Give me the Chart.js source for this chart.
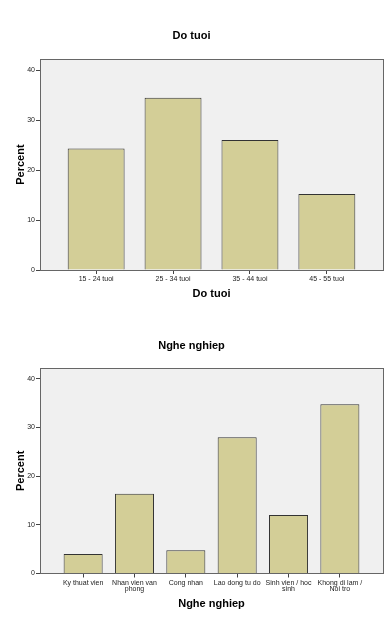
<!DOCTYPE html>
<html>
<head>
<meta charset="utf-8">
<script src="https://cdn.jsdelivr.net/npm/chart.js@4/dist/chart.umd.min.js"></script>
<style>
  html, body { margin: 0; padding: 0; background: #fff; }
  .box1 { position: relative; width: 390px; height: 310px; }
  .box2 { position: relative; width: 390px; height: 309px; }
</style>
</head>
<body>
<div class="box1"><canvas id="ageChart"></canvas></div>
<div class="box2"><canvas id="jobChart"></canvas></div>
<script>
// Do tuoi
const ageLabels = ['15 - 24 tuoi', '25 - 34 tuoi', '35 - 44 tuoi', '45 - 55 tuoi'];
const ageValues = [24.3, 34.5, 26.0, 15.2];

// Nghe nghiep
const jobLabels = [
  'Ky thuat vien',
  ['Nhan vien van', 'phong'],
  'Cong nhan',
  'Lao dong tu do',
  ['Sinh vien / hoc', 'sinh'],
  ['Khong di lam /', 'Noi tro']
];
const jobValues = [4.0, 16.4, 4.8, 28.0, 12.0, 34.8];

const yTicks = [0, 10, 20, 30, 40];

Chart.defaults.font.family = 'Arial, "Liberation Sans", sans-serif';
Chart.defaults.color = '#222';

// grey plot background + frame like SPSS output
const plotFrame = {
  id: 'plotFrame',
  beforeDraw(chart) {
    const a = chart.chartArea;
    const ctx = chart.ctx;
    ctx.save();
    ctx.fillStyle = '#f0f0f0';
    ctx.fillRect(a.left, a.top, a.right - a.left, a.bottom - a.top);
    ctx.restore();
  },
  afterDraw(chart) {
    const a = chart.chartArea;
    const ctx = chart.ctx;
    ctx.save();
    ctx.strokeStyle = '#666';
    ctx.lineWidth = 1;
    ctx.strokeRect(Math.round(a.left) + 0.5, Math.round(a.top) + 0.5,
      Math.round(a.right - a.left), Math.round(a.bottom - a.top));
    ctx.restore();
  }
};

function makeChart(id, title, labels, values, opts) {
  const ctx = document.getElementById(id).getContext('2d');
  return new Chart(ctx, {
    type: 'bar',
    data: {
      datasets: [{
        data: values.map((v, i) => ({ x: i, y: v })),
        backgroundColor: '#d3ce97',
        borderColor: '#333',
        borderWidth: 1,
        categoryPercentage: 1,
        barPercentage: opts.barPct
      }]
    },
    options: {
      responsive: true,
      maintainAspectRatio: false,
      animation: false,
      layout: { padding: { left: 0, right: 7, top: 0, bottom: 0 } },
      plugins: {
        legend: { display: false },
        tooltip: { enabled: false },
        title: {
          display: true,
          text: title,
          font: { size: 11, weight: 'bold' },
          color: '#000',
          padding: { top: 29, bottom: opts.titleGap }
        }
      },
      scales: {
        x: {
          type: 'linear',
          min: -opts.edge,
          max: labels.length - 1 + opts.edge,
          offset: false,
          grid: { drawOnChartArea: false, drawTicks: true, tickLength: 4, color: '#444', offset: false },
          border: { display: true, color: '#555' },
          ticks: {
            stepSize: 1,
            includeBounds: false,
            autoSkip: false,
            maxRotation: 0,
            minRotation: 0,
            padding: 2,
            font: { size: 7, lineHeight: 0.9 },
            color: '#222',
            callback: v => Number.isInteger(v) && labels[v] !== undefined ? labels[v] : null
          },
          title: {
            display: true,
            text: title,
            font: { size: 11, weight: 'bold' },
            color: '#000',
            padding: { top: 0, bottom: opts.xTitleGap }
          },
          afterFit: s => { s.height = opts.xHeight; }
        },
        y: {
          min: 0,
          max: 42.2,
          grid: { drawOnChartArea: false, drawTicks: true, tickLength: 4, color: '#444' },
          border: { display: true, color: '#555' },
          afterBuildTicks: s => { s.ticks = yTicks.map(v => ({ value: v })); },
          ticks: {
            padding: 1,
            font: { size: 7 },
            color: '#222'
          },
          title: {
            display: true,
            text: 'Percent',
            font: { size: 11, weight: 'bold' },
            color: '#000',
            padding: { top: 14, bottom: 0 }
          },
          afterFit: s => { s.width = 40; }
        }
      }
    },
    plugins: [plotFrame]
  });
}

makeChart('ageChart', 'Do tuoi', ageLabels, ageValues,
  { edge: 0.73, barPct: 0.74, xHeight: 40, titleGap: 17, xTitleGap: 9 });
makeChart('jobChart', 'Nghe nghiep', jobLabels, jobValues,
  { edge: 0.84, barPct: 0.76, xHeight: 45.5, titleGap: 16, xTitleGap: 8 });
</script>
</body>
</html>
